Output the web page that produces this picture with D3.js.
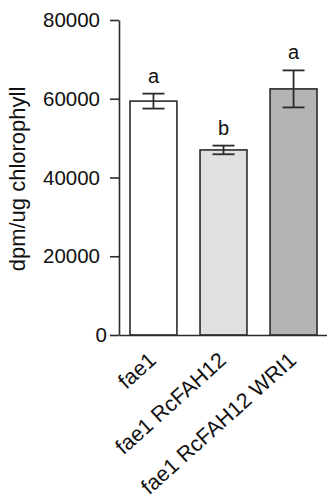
<!DOCTYPE html>
<html>
<head>
<meta charset="utf-8">
<script src="https://cdn.jsdelivr.net/npm/d3@7"></script>
<style>
    body { margin: 0; background: #fff; }
    svg text { font-family: "Liberation Sans", Arial, sans-serif; fill: #111; }
</style>
</head>
<body>
<svg id="chart"></svg>
<script>
// chart data
const categories = ["fae1", "fae1 RcFAH12", "fae1 RcFAH12 WRI1"];
const means = [59400, 47000, 62500];
const errors = [1900, 1100, 4700];
const letters = ["a", "b", "a"];
const fills = ["#ffffff", "#e0e0e0", "#b4b4b4"];
const yTicks = [0, 20000, 40000, 60000, 80000];

const width = 327;
const height = 499;

const svg = d3.select("#chart")
    .attr("width", width)
    .attr("height", height);

// scales
const y = d3.scaleLinear()
    .domain([0, 80000])
    .range([335, 20]);

const x = d3.scaleBand()
    .domain(categories)
    .range([119, 328])
    .paddingInner(0.33)
    .paddingOuter(0.157);

const rows = categories.map((c, i) => ({
    name: c, mean: means[i], err: errors[i], letter: letters[i], fill: fills[i]
}));

// bars
svg.append("g")
    .selectAll("rect")
    .data(rows)
    .enter()
    .append("rect")
    .attr("x", d => x(d.name))
    .attr("y", d => y(d.mean))
    .attr("width", x.bandwidth())
    .attr("height", d => y(0) - y(d.mean))
    .attr("fill", d => d.fill)
    .attr("stroke", "#2b2b2b")
    .attr("stroke-width", 1.6);

// error bars
const capW = 22;
const err = svg.append("g")
    .attr("stroke", "#2b2b2b")
    .attr("stroke-width", 1.8);

rows.forEach(d => {
    const cx = x(d.name) + x.bandwidth() / 2;
    err.append("line")
        .attr("x1", cx).attr("x2", cx)
        .attr("y1", y(d.mean + d.err)).attr("y2", y(d.mean - d.err));
    err.append("line")
        .attr("x1", cx - capW / 2).attr("x2", cx + capW / 2)
        .attr("y1", y(d.mean + d.err)).attr("y2", y(d.mean + d.err));
    err.append("line")
        .attr("x1", cx - capW / 2).attr("x2", cx + capW / 2)
        .attr("y1", y(d.mean - d.err)).attr("y2", y(d.mean - d.err));
});

// significance letters
svg.append("g")
    .selectAll("text")
    .data(rows)
    .enter()
    .append("text")
    .attr("x", d => x(d.name) + x.bandwidth() / 2)
    .attr("y", d => y(d.mean + d.err) - 11)
    .attr("text-anchor", "middle")
    .style("font-size", "20px")
    .text(d => d.letter);

// y axis
const yAxis = svg.append("g")
    .attr("transform", "translate(119,0)")
    .call(d3.axisLeft(y)
        .tickValues(yTicks)
        .tickSize(9)
        .tickSizeOuter(0)
        .tickPadding(10)
        .tickFormat(d3.format("d")));

yAxis.selectAll("path, line")
    .attr("stroke", "#2b2b2b")
    .attr("stroke-width", 1.6);
yAxis.selectAll("text")
    .style("font-size", "20.5px")
    .attr("fill", "#111")
    .attr("font-family", null);
// the zero label sits a bit closer to its tick
yAxis.selectAll(".tick")
    .filter(d => d === 0)
    .select("text")
    .attr("x", -12);

// x axis
const xAxis = svg.append("g")
    .attr("transform", "translate(0,335)")
    .call(d3.axisBottom(x).tickSize(0).tickSizeOuter(0));

xAxis.select(".domain")
    .attr("stroke", "#2b2b2b")
    .attr("stroke-width", 1.6);
xAxis.selectAll("text")
    .style("font-size", "21.5px")
    .attr("fill", "#111")
    .attr("font-family", null)
    .attr("text-anchor", "end")
    .attr("transform", "translate(4,27) rotate(-42)")
    .attr("x", 0)
    .attr("y", 0)
    .attr("dy", 0);

// y axis title
svg.append("text")
    .attr("transform", "translate(25,179) rotate(-90)")
    .attr("text-anchor", "middle")
    .style("font-size", "22px")
    .text("dpm/ug chlorophyll");
</script>
</body>
</html>
